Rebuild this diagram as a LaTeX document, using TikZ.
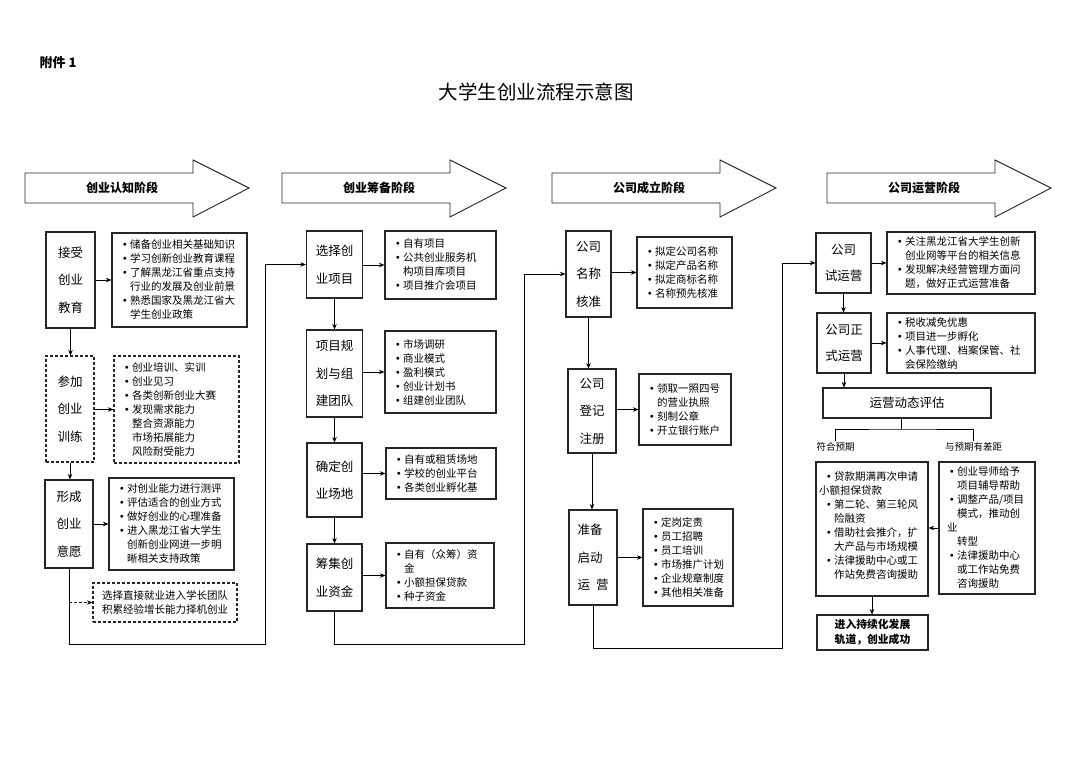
\documentclass[tikz,border=0pt]{standalone}
\usepackage{fontspec}
\setmainfont{Noto Sans CJK SC}
\usetikzlibrary{arrows.meta, positioning, calc}
\newcommand{\itemdot}{\makebox[10pt][c]{\raisebox{2pt}{\scriptsize$\bullet$}}}
\newcommand{\itempad}{\hspace*{10pt}}

\begin{document}
\begin{tikzpicture}[
    x=1pt, y=-1pt,
    phasearrow/.style={draw=black!85, line width=0.9pt, fill=white},
    phase/.style={font=\bfseries\fontsize{12}{14}\selectfont},
    task/.style={draw=black!85, line width=1.1pt, inner sep=0pt, align=center, font=\fontsize{12.5}{27.5}\selectfont},
    info/.style={draw=black!85, line width=1.1pt, align=left, inner xsep=8pt, inner ysep=2pt, font=\fontsize{10.5}{14}\selectfont},
    note/.style={inner sep=1pt, font=\fontsize{9.5}{11}\selectfont},
    dashbox/.style={dash pattern=on 3pt off 2pt},
    arrow/.style={-{Stealth[length=5.5pt,width=4.5pt]}, line width=0.7pt},
    line/.style={line width=0.7pt}
]
    \useasboundingbox[fill=white] (0,0) rectangle (1072,758);

    \node[font=\bfseries\fontsize{13}{15}\selectfont] (annex) at (58,63) {附件 1};
    \node[font=\fontsize{19.5}{22}\selectfont] (title) at (536,92) {大学生创业流程示意图};

    \foreach \x/\nm/\txt in {25/ph1/创业认知阶段, 282/ph2/创业筹备阶段, 552/ph3/公司成立阶段, 827/ph4/公司运营阶段} {
        \draw[phasearrow] (\x,173) -- ++(168,0) -- ++(0,-13) -- ++(56,28) -- ++(-56,29) -- ++(0,-14) -- ++(-168,0) -- cycle;
        \node[phase] (\nm) at (\x+97,188) {\txt};
    }

    \node[task, minimum width=49pt, minimum height=96pt] (edu) at (70.5,280) {接受\\创业\\教育};
    \node[info, minimum width=135pt, minimum height=94pt, text width=119pt] (eduinfo) at (179.5,280) {\itemdot 储备创业相关基础知识\\\itemdot 学习创新创业教育课程\\\itemdot 了解黑龙江省重点支持\\\itempad 行业的发展及创业前景\\\itemdot 熟悉国家及黑龙江省大\\\itempad 学生创业政策};
    \node[task, dashbox, minimum width=48pt, minimum height=106pt] (train) at (70,409) {参加\\创业\\训练};
    \node[info, dashbox, minimum width=125pt, minimum height=107pt, text width=109pt] (traininfo) at (176.5,409.5) {\itemdot 创业培训、实训\\\itemdot 创业见习\\\itemdot 各类创新创业大赛\\\itemdot 发现需求能力\\\itempad 整合资源能力\\\itempad 市场拓展能力\\\itempad 风险耐受能力};
    \node[task, minimum width=48pt, minimum height=88pt] (form) at (69,524) {形成\\创业\\意愿};
    \node[info, minimum width=125pt, minimum height=92pt, text width=109pt] (forminfo) at (171.5,524) {\itemdot 对创业能力进行测评\\\itemdot 评估适合的创业方式\\\itemdot 做好创业的心理准备\\\itemdot 进入黑龙江省大学生\\\itempad 创新创业网进一步明\\\itempad 晰相关支持政策};
    \node[info, dashbox, align=center, minimum width=144pt, minimum height=39pt, text width=128pt] (job) at (165,602.5) {选择直接就业进入学长团队\\积累经验增长能力择机创业};

    \node[task, minimum width=56pt, minimum height=67pt] (select) at (334.5,264.5) {选择创\\业项目};
    \node[info, minimum width=111pt, minimum height=68pt, text width=95pt] (selectinfo) at (440.5,265) {\itemdot 自有项目\\\itemdot 公共创业服务机\\\itempad 构项目库项目\\\itemdot 项目推介会项目};
    \node[task, minimum width=56pt, minimum height=87pt] (plan) at (334.5,373.5) {项目规\\划与组\\建团队};
    \node[info, minimum width=111pt, minimum height=82pt, text width=95pt] (planinfo) at (440.5,372) {\itemdot 市场调研\\\itemdot 商业模式\\\itemdot 盈利模式\\\itemdot 创业计划书\\\itemdot 组建创业团队};
    \node[task, minimum width=55pt, minimum height=74pt] (site) at (334.5,480) {确定创\\业场地};
    \node[info, minimum width=110pt, minimum height=51pt, text width=94pt] (siteinfo) at (441,473.5) {\itemdot 自有或租赁场地\\\itemdot 学校的创业平台\\\itemdot 各类创业孵化基};
    \node[task, minimum width=55pt, minimum height=67pt] (fund) at (334.5,577.5) {筹集创\\业资金};
    \node[info, minimum width=108pt, minimum height=65pt, text width=92pt] (fundinfo) at (440,575.5) {\itemdot 自有（众筹）资\\\itempad 金\\\itemdot 小额担保贷款\\\itemdot 种子资金};

    \node[task, minimum width=45pt, minimum height=86pt] (cname) at (588.5,274) {公司\\名称\\核准};
    \node[info, minimum width=95pt, minimum height=71pt, text width=79pt] (cnameinfo) at (684.5,272.5) {\itemdot 拟定公司名称\\\itemdot 拟定产品名称\\\itemdot 拟定商标名称\\\itemdot 名称预先核准};
    \node[task, minimum width=48pt, minimum height=84pt] (creg) at (592,411) {公司\\登记\\注册};
    \node[info, minimum width=92pt, minimum height=71pt, text width=76pt] (creginfo) at (685,409.5) {\itemdot 领取一照四号\\\itempad 的营业执照\\\itemdot 刻制公章\\\itemdot 开立银行账户};
    \node[task, align=left, minimum width=48pt, minimum height=95pt] (launch) at (593,557.5) {准备\\启动\\运\hspace{6pt}营};
    \node[info, minimum width=90pt, minimum height=97pt, text width=74pt] (launchinfo) at (688,557.5) {\itemdot 定岗定责\\\itemdot 员工招聘\\\itemdot 员工培训\\\itemdot 市场推广计划\\\itemdot 企业规章制度\\\itemdot 其他相关准备};

    \node[task, minimum width=55pt, minimum height=60pt, font=\fontsize{12.5}{26}\selectfont] (trial) at (843.5,263) {公司\\试运营};
    \node[info, minimum width=148pt, minimum height=62pt, text width=132pt] (trialinfo) at (961,263) {\itemdot 关注黑龙江省大学生创新\\\itempad 创业网等平台的相关信息\\\itemdot 发现解决经营管理方面问\\\itempad 题，做好正式运营准备};
    \node[task, minimum width=54pt, minimum height=60pt, font=\fontsize{12.5}{26}\selectfont] (formal) at (844,343) {公司正\\式运营};
    \node[info, minimum width=148pt, minimum height=60pt, text width=132pt] (formalinfo) at (961,343) {\itemdot 税收减免优惠\\\itemdot 项目进一步孵化\\\itemdot 人事代理、档案保管、社\\\itempad 会保险缴纳};
    \node[task, minimum width=168pt, minimum height=30pt] (eval) at (907,403) {运营动态评估};
    \coordinate (split) at (901,429);
    \node[note] (fitlbl) at (835.5,447) {符合预期};
    \node[note] (gaplbl) at (973.5,447) {与预期有差距};
    \node[info, minimum width=112pt, minimum height=134pt, text width=96pt] (fitinfo) at (872,529) {\itemdot 贷款期满再次申请\\\hspace*{-5pt}小额担保贷款\\\itemdot 第二轮、第三轮风\\\itempad 险融资\\\itemdot 借助社会推介，扩\\\itempad 大产品与市场规模\\\itemdot 法律援助中心或工\\\itempad 作站免费咨询援助\\[-7pt]\mbox{}};
    \node[info, minimum width=96pt, minimum height=132pt, text width=80pt] (gapinfo) at (987,528) {\itemdot 创业导师给予\\\itempad 项目辅导帮助\\\itemdot 调整产品/项目\\\itempad 模式，推动创\\业\\\itempad 转型\\\itemdot 法律援助中心\\\itempad 或工作站免费\\\itempad 咨询援助};
    \node[task, minimum width=111pt, minimum height=35pt, font=\bfseries\fontsize{10.8}{15}\selectfont] (final) at (872.5,632.5) {进入持续化发展\\轨道，创业成功};

    \draw[arrow] (edu.east |- eduinfo.west) -- (eduinfo.west);
    \draw[arrow] (edu.south) -- (edu.south |- train.north);
    \draw[arrow] (train.east |- traininfo.west) -- (traininfo.west);
    \draw[arrow] (train.south) -- (train.south |- form.north);
    \draw[arrow] (form.east |- forminfo.west) -- (forminfo.west);
    \draw[arrow, dashbox] (form.south |- job.west) -- (job.west);
    \coordinate (c1) at (265,644);
    \draw[arrow] (form.south) |- (c1) |- (select.west);

    \draw[arrow] (select.east |- selectinfo.west) -- (selectinfo.west);
    \draw[arrow] (select) -- (plan);
    \draw[arrow] (plan.east |- planinfo.west) -- (planinfo.west);
    \draw[arrow] (plan) -- (site);
    \draw[arrow] (site.east |- siteinfo.west) -- (siteinfo.west);
    \draw[arrow] (site) -- (fund);
    \draw[arrow] (fund.east |- fundinfo.west) -- (fundinfo.west);
    \coordinate (c2) at (524,644);
    \draw[arrow] (fund.south) |- (c2) |- (cname.west);

    \draw[arrow] (cname.east |- cnameinfo.west) -- (cnameinfo.west);
    \draw[arrow] (cname.south) -- (cname.south |- creg.north);
    \draw[arrow] (creg.east |- creginfo.west) -- (creginfo.west);
    \draw[arrow] (creg.south) -- (creg.south |- launch.north);
    \draw[arrow] (launch.east |- launchinfo.west) -- (launchinfo.west);
    \coordinate (c3) at (782,648);
    \draw[arrow] (launch.south) |- (c3) |- (trial.west);

    \draw[arrow] (trial.east |- trialinfo.west) -- (trialinfo.west);
    \draw[arrow] (trial.south) -- (trial.south |- formal.north);
    \draw[arrow] (formal.east |- formalinfo.west) -- (formalinfo.west);
    \draw[arrow] (formal.south) -- (formal.south |- eval.north);
    \draw[line] (split |- eval.south) -- (split);
    \draw[line] (fitlbl.north) |- (split) -| (gaplbl.north);
    \draw[arrow] (gapinfo.west) -- (gapinfo.west -| fitinfo.east);
    \draw[arrow] (fitinfo.south) -- (fitinfo.south |- final.north);
\end{tikzpicture}
\end{document}
